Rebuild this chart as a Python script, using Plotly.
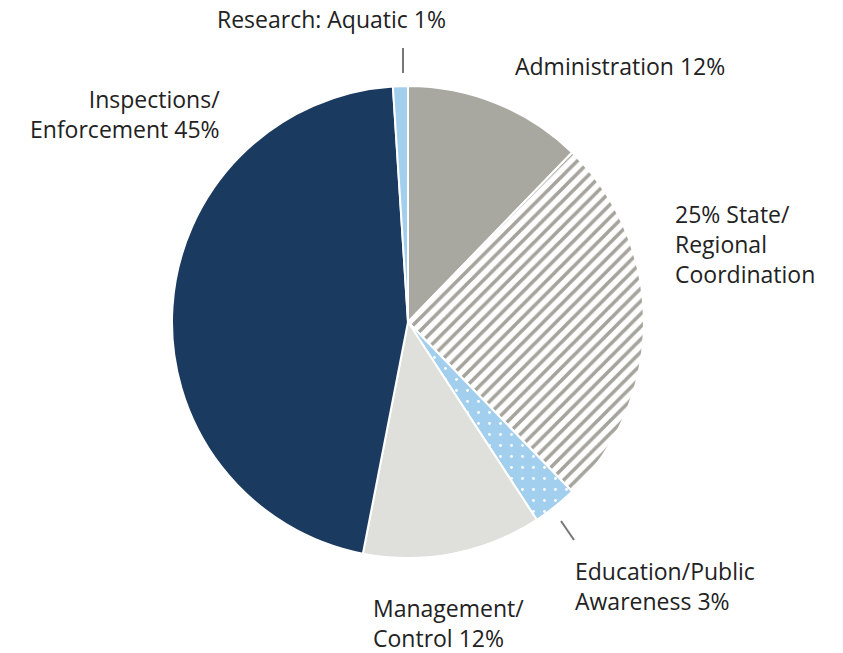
import plotly.graph_objects as go

categories = ["Administration", "State/Regional Coordination", "Education/Public Awareness",
              "Management/Control", "Inspections/Enforcement", "Research: Aquatic"]
values = [12, 25, 3, 12, 45, 1]
label_texts = ["Administration 12%", "25% State/<br>Regional<br>Coordination",
               "Education/Public<br>Awareness 3%", "Management/<br>Control 12%",
               "Inspections/<br>Enforcement 45%", "Research: Aquatic 1%"]

colors = ["#a9a8a0", "#ffffff", "#a3cfef", "#dfdfdb", "#1a3a60", "#a3cfef"]
pattern_shapes = ["", "/", ".", "", "", ""]
pattern_fg = ["#a9a8a0", "#a5a49c", "#ffffff", "#dfdfdb", "#1a3a60", "#a3cfef"]
pattern_size = [8, 9, 11, 8, 8, 8]
pattern_solid = [0.3, 0.4, 0.05, 0.3, 0.3, 0.3]

W, H = 843, 653
cx, cy, r = 408, 322, 236

fig = go.Figure(go.Pie(
    labels=categories, values=values, sort=False, direction="clockwise",
    rotation=0, textinfo="none", hoverinfo="label+percent",
    marker=dict(colors=colors, line=dict(color="#ffffff", width=2),
                pattern=dict(shape=pattern_shapes, fgcolor=pattern_fg,
                             bgcolor=colors, size=pattern_size,
                             solidity=pattern_solid, fillmode="replace")),
    domain=dict(x=[(cx - r) / W, (cx + r) / W],
                y=[(H - cy - r) / H, (H - cy + r) / H]),
    showlegend=False,
))

font = dict(family="Open Sans, sans-serif", size=23, color="#222222")
# (x_px, y_px_top, anchor)
label_pos = [(513, 48, "left"), (673, 196, "left"), (573, 553, "left"),
             (371, 590, "left"), (222, 81, "right"), (215, 1, "left")]
for txt, (x, y, anc) in zip(label_texts, label_pos):
    fig.add_annotation(text=txt, x=x / W, y=1 - y / H, xref="paper", yref="paper",
                       xanchor=anc, yanchor="top", align=anc, showarrow=False, font=font)

for (x0, y0, x1, y1) in [(403, 48, 403, 73), (561, 521, 574, 540)]:
    fig.add_shape(type="line", x0=x0 / W, x1=x1 / W, y0=1 - y0 / H, y1=1 - y1 / H,
                  xref="paper", yref="paper", line=dict(color="#777777", width=2))

fig.update_layout(width=W, height=H, margin=dict(l=0, r=0, t=0, b=0),
                  paper_bgcolor="#ffffff", plot_bgcolor="#ffffff")
fig.write_html("out.html", config={"displayModeBar": False},
               post_script="document.body.style.margin='0';document.body.style.overflow='hidden';")
